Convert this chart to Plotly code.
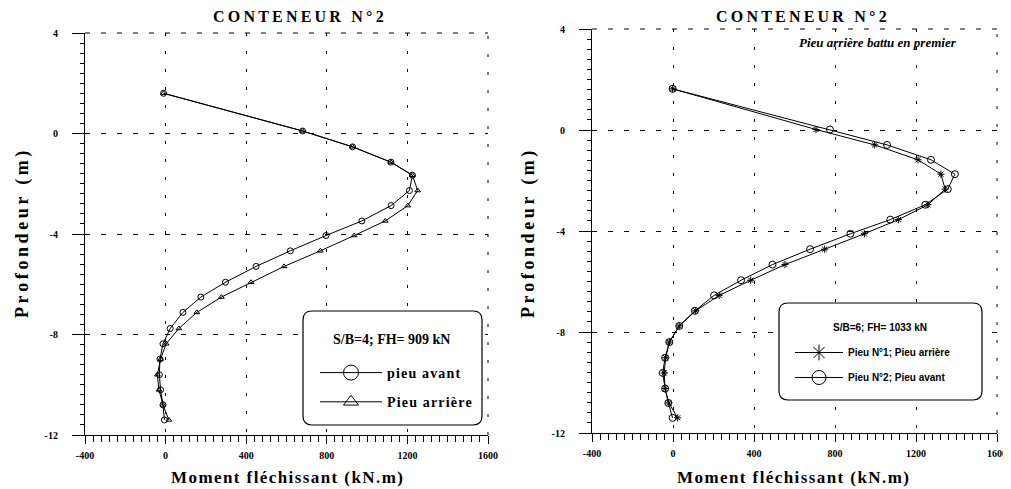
import plotly.graph_objects as go

# ---------------- data ----------------
depth_left = [1.6, 0.1, -0.53, -1.14, -1.66, -2.27, -2.87, -3.48, -4.06, -4.67, -5.29,
              -5.92, -6.51, -7.12, -7.76, -8.37, -8.98, -9.6, -10.2, -10.8, -11.4]
m_left_avant = [-10, 680, 928, 1118, 1225, 1210, 1119, 974, 796, 619, 449,
                297, 175, 86, 23, -13, -28, -31, -25, -13, -6]
m_left_arriere = [-10, 680, 928, 1118, 1225, 1251, 1202, 1090, 936, 768, 588,
                  424, 277, 155, 66, 3, -25, -41, -33, -13, 16]

depth_right = [1.63, 0.02, -0.59, -1.18, -1.75, -2.34, -2.96, -3.55, -4.11, -4.72, -5.33,
               -5.95, -6.55, -7.16, -7.76, -8.4, -9.02, -9.62, -10.24, -10.81, -11.4]
m_right_n2_avant = [-2, 775, 1057, 1274, 1392, 1357, 1246, 1073, 876, 677, 491,
                    336, 203, 108, 31, -18, -39, -51, -39, -23, -2]
m_right_n1_arriere = [-2, 706, 996, 1210, 1323, 1344, 1259, 1113, 945, 749, 553,
                      384, 228, 112, 31, -18, -36, -44, -39, -21, 23]

x_ticks = [-400, 0, 400, 800, 1200, 1600]
y_ticks = [-12, -8, -4, 0, 4]

# page body has an 8px default margin: size the figure so it ends at the window edge
OFF = 8
W, H = 1011 - OFF, 489 - OFF
SERIF = "Liberation Serif"
SANS = "Liberation Sans"


def px(x):
    return (x - OFF) / W


def py(y):
    return 1 - (y - OFF) / H


def spaced(s, sp="\u2009"):
    return sp.join(list(s))


fig = go.Figure()

LINE = dict(color="black", width=1)


def data_trace(x, y, symbol, size, xa, ya):
    return go.Scatter(x=x, y=y, mode="lines+markers", showlegend=False, line=LINE,
                      marker=dict(symbol=symbol, size=size, color="black", line=dict(width=1, color="black")),
                      xaxis=xa, yaxis=ya, hoverinfo="x+y")


def legend_trace(name, symbol, size, legend, group, xa, ya):
    return go.Scatter(x=[None], y=[None], mode="lines+markers", name=name, legend=legend,
                      legendgroup=group, line=LINE,
                      marker=dict(symbol=symbol, size=size, color="black", line=dict(width=1, color="black")),
                      xaxis=xa, yaxis=ya)


# left panel
fig.add_trace(data_trace(m_left_avant, depth_left, "circle-open", 6, "x", "y"))
fig.add_trace(data_trace(m_left_arriere, depth_left, "triangle-up-open", 5, "x", "y"))
fig.add_trace(legend_trace(spaced("pieu avant", "\u200a"), "circle-open", 15, "legend", "a", "x", "y"))
fig.add_trace(legend_trace(spaced("Pieu arrière", "\u200a"), "triangle-up-open", 13, "legend", "b", "x", "y"))

# right panel
fig.add_trace(data_trace(m_right_n1_arriere, depth_right, "asterisk-open", 6, "x2", "y2"))
fig.add_trace(data_trace(m_right_n2_avant, depth_right, "circle-open", 7, "x2", "y2"))
fig.add_trace(legend_trace("Pieu N°1; Pieu arrière", "asterisk-open", 13, "legend2", "c", "x2", "y2"))
fig.add_trace(legend_trace("Pieu N°2; Pieu avant", "circle-open", 14, "legend2", "d", "x2", "y2"))


def xaxis_cfg(domain, anchor):
    return dict(domain=domain, anchor=anchor, range=[-400, 1600], tickvals=x_ticks,
                ticktext=[str(v) for v in x_ticks], showline=True, linecolor="black", linewidth=1.2,
                mirror=False, ticks="outside", ticklen=8, tickcolor="black", tickwidth=1,
                minor=dict(dtick=40, ticks="outside", ticklen=6, tickcolor="black", showgrid=False),
                showgrid=True, gridcolor="black", gridwidth=1, griddash="3px,15px",
                zeroline=False, automargin=False,
                tickfont=dict(family=SERIF, size=10, color="black", weight="bold"),
                ticklabelstandoff=3, fixedrange=True)


def yaxis_cfg(domain, anchor):
    return dict(domain=domain, anchor=anchor, range=[-12, 4], tickvals=y_ticks,
                ticktext=[str(v) for v in y_ticks], showline=True, linecolor="black", linewidth=1.2,
                mirror=False, ticks="outside", ticklen=12, tickcolor="black", tickwidth=1,
                minor=dict(dtick=0.4, ticks="outside", ticklen=4, tickcolor="black", showgrid=False),
                showgrid=True, gridcolor="black", gridwidth=1, griddash="5px,11px",
                zeroline=False, automargin=False,
                tickfont=dict(family=SERIF, size=10, color="black", weight="bold"),
                ticklabelstandoff=12, fixedrange=True)


fig.update_layout(
    width=W, height=H, margin=dict(l=0, r=0, t=0, b=0, autoexpand=False),
    paper_bgcolor="white", plot_bgcolor="white",
    xaxis=xaxis_cfg([px(85), px(488)], "y"),
    yaxis=yaxis_cfg([py(435), py(33)], "x"),
    xaxis2=xaxis_cfg([px(592), px(997)], "y2"),
    yaxis2=yaxis_cfg([py(433), py(29)], "x2"),
    legend=dict(x=px(315), y=py(357), xanchor="left", yanchor="top",
                bgcolor="rgba(0,0,0,0)", borderwidth=0, itemsizing="trace",
                itemwidth=62, traceorder="grouped", tracegroupgap=8,
                font=dict(family=SERIF, size=14, color="black", weight="bold")),
    legend2=dict(x=px(790), y=py(338), xanchor="left", yanchor="top",
                 bgcolor="rgba(0,0,0,0)", borderwidth=0, itemsizing="trace",
                 itemwidth=48, traceorder="grouped", tracegroupgap=6,
                 font=dict(family=SANS, size=10, color="black", weight="bold")),
    showlegend=True,
)


def rounded_box(x0, y0, x1, y1, r):
    X0, X1 = px(x0), px(x1)
    Y0, Y1 = py(y1), py(y0)
    rx, ry = r / W, r / H
    path = (f"M {X0+rx},{Y0} L {X1-rx},{Y0} Q {X1},{Y0} {X1},{Y0+ry} "
            f"L {X1},{Y1-ry} Q {X1},{Y1} {X1-rx},{Y1} L {X0+rx},{Y1} "
            f"Q {X0},{Y1} {X0},{Y1-ry} L {X0},{Y0+ry} Q {X0},{Y0} {X0+rx},{Y0} Z")
    return dict(type="path", path=path, xref="paper", yref="paper",
                line=dict(color="black", width=1.2), fillcolor="white", layer="above")


# dashed top edge and dotted right edge of each frame
for xr, yr in (("x", "y"), ("x2", "y2")):
    fig.add_shape(type="line", xref=f"{xr} domain", yref=f"{yr} domain", x0=0, x1=1, y0=1, y1=1,
                  line=dict(color="black", width=1, dash="5px,11px"), layer="below")
    fig.add_shape(type="line", xref=f"{xr} domain", yref=f"{yr} domain", x0=1, x1=1, y0=0, y1=1,
                  line=dict(color="black", width=1, dash="3px,15px"), layer="below")

fig.add_shape(rounded_box(303, 311, 482, 425, 9))
fig.add_shape(rounded_box(779, 303, 982, 400, 9))

annotations = [
    dict(text=spaced("CONTENEUR N°2"), x=px(298), y=py(16), font=dict(family=SERIF, size=16, weight="bold")),
    dict(text=spaced("CONTENEUR N°2"), x=px(801), y=py(16), font=dict(family=SERIF, size=16, weight="bold")),
    dict(text="<b><i>Pieu arrière battu en premier</i></b>", x=px(878), y=py(42),
         font=dict(family=SERIF, size=13, weight="bold")),
    dict(text=spaced("Moment fléchissant (kN.m)", "\u200a"), x=px(287), y=py(477), font=dict(family=SERIF, size=17, weight="bold")),
    dict(text=spaced("Moment fléchissant (kN.m)", "\u200a"), x=px(793), y=py(477), font=dict(family=SERIF, size=17, weight="bold")),
    dict(text=spaced("Profondeur (m)"), x=px(22), y=py(235), textangle=-90, font=dict(family=SERIF, size=18, weight="bold")),
    dict(text=spaced("Profondeur (m)"), x=px(528), y=py(235), textangle=-90, font=dict(family=SERIF, size=18, weight="bold")),
    dict(text="S/B=4; FH= 909 kN", x=px(391), y=py(339), font=dict(family=SERIF, size=14, weight="bold")),
    dict(text="S/B=6; FH= 1033 kN", x=px(880), y=py(327), font=dict(family=SANS, size=10, weight="bold")),
]
for a in annotations:
    a.setdefault("xref", "paper")
    a.setdefault("yref", "paper")
    a["showarrow"] = False
    a["font"]["color"] = "black"
    a["xanchor"] = "center"
    a["yanchor"] = "middle"
    fig.add_annotation(**a)

fig.write_html("out.html")
